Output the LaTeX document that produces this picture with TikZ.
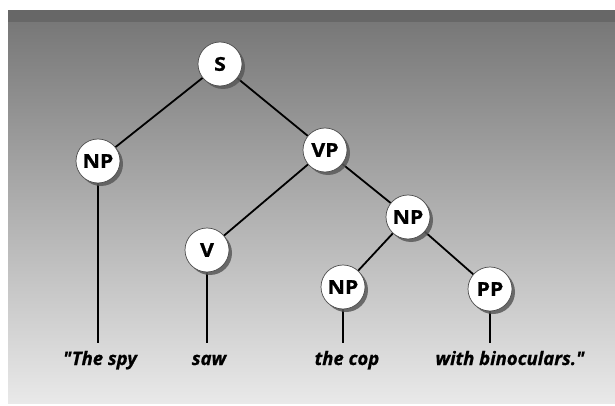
\documentclass[tikz,border=0pt]{standalone}
\usepackage{fontspec}
\setmainfont{Open Sans}
\newfontfamily\nodefont[FakeStretch=1.12, FakeBold=1.2]{Open Sans}
\newfontfamily\wordfont[FakeStretch=1.0, FakeBold=0.8]{Open Sans}
\usetikzlibrary{shadows,backgrounds}
\definecolor{bandgray}{RGB}{103,103,103}
\definecolor{topgray}{RGB}{120,120,120}
\definecolor{botgray}{RGB}{233,233,233}
\tikzset{
  cat/.style={circle, fill=white, draw=black!70, line width=0.7pt,
    minimum size=44pt, inner sep=0pt,
    font=\nodefont\bfseries\fontsize{19}{19}\selectfont,
    drop shadow={shadow xshift=3pt, shadow yshift=-3pt, fill=black!65, opacity=0.85}},
  word/.style={anchor=base, inner sep=0pt, font=\wordfont\bfseries\itshape\fontsize{18.5}{18.5}\selectfont},
  branch/.style={line width=1.8pt, black}
}
\begin{document}
\begin{tikzpicture}[x=1pt,y=-1pt]
\useasboundingbox (0,0) rectangle (615,406);
\node[cat] (s) at (220,64) {S};
\node[cat] (np1) at (98,161) {NP};
\node[cat] (vp) at (325,150) {VP};
\node[cat] (v) at (207,250) {V};
\node[cat] (np2) at (408,217) {NP};
\node[cat] (np3) at (343,287) {NP};
\node[cat] (pp) at (490,289) {PP};
\coordinate (e1) at (np1 |- 0,343);
\coordinate (e2) at (v |- 0,343);
\coordinate (e3) at (np3 |- 0,343);
\coordinate (e4) at (pp |- 0,343);
\node[word] (w1) at (100,365) {"The spy};
\node[word] (w2) at (209,365) {saw};
\node[word] (w3) at (347,365) {the cop};
\node[word] (w4) at (510,365) {with binoculars."};
\begin{scope}[on background layer]
  \fill[bandgray] (8,10) rectangle (615,23);
  \shade[top color=topgray, bottom color=botgray] (8,23) rectangle (615,403);
  \draw[branch] (s) -- (np1);
  \draw[branch] (s) -- (vp);
  \draw[branch] (vp) -- (v);
  \draw[branch] (vp) -- (np2);
  \draw[branch] (np2) -- (np3);
  \draw[branch] (np2) -- (pp);
  \draw[branch] (np1) -- (e1);
  \draw[branch] (v) -- (e2);
  \draw[branch] (np3) -- (e3);
  \draw[branch] (pp) -- (e4);
\end{scope}
\end{tikzpicture}
\end{document}
